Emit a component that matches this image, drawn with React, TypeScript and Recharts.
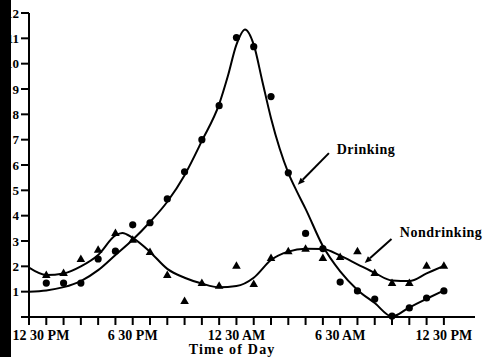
import React from 'react';
import {
  ComposedChart,
  Line,
  Scatter,
  XAxis,
  YAxis,
  ReferenceLine,
  ReferenceDot,
} from 'recharts';

// Observed hours (index of hour since 12:30 PM)
const obsHours = [1, 2, 3, 4, 5, 6, 7, 8, 9, 10, 11, 12, 13, 14, 15, 16, 17, 18, 19, 20, 21, 22, 23, 24];
const drinkingObs = [1.34, 1.34, 1.34, 2.29, 2.6, 3.64, 3.72, 4.66, 5.73, 7.0, 8.34, 11.03, 10.67, 8.7, 5.69, 3.3, 2.7, 1.38, 1.03, 0.71, 0.04, 0.36, 0.75, 1.03];
const nondrinkingObs = [1.66, 1.74, 2.29, 2.65, 3.32, 3.05, 2.57, 1.66, 0.63, 1.34, 1.23, 2.02, 1.3, 2.33, 2.6, 2.69, 2.33, 2.37, 2.6, 1.74, 1.34, 1.34, 2.02, 2.02];

// Fitted curves
const drinkingFitHours = [0, 1, 2, 3, 4, 5, 6, 7, 8, 9, 10, 11, 11.5, 12, 12.5, 13, 13.5, 14, 14.5, 15, 15.5, 16, 17, 18, 19, 20, 21, 22, 23, 24];
const drinkingFit = [1.0, 1.05, 1.18, 1.42, 1.85, 2.45, 3.05, 3.75, 4.55, 5.6, 6.95, 8.4, 9.5, 10.75, 11.35, 10.75, 9.3, 7.85, 6.65, 5.69, 4.95, 4.27, 2.8, 1.8, 1.07, 0.55, 0.02, 0.38, 0.72, 1.05];
const nondrinkingFitHours = [0, 1, 2, 3, 4, 5, 5.4, 6, 7, 8, 9, 10, 11, 12, 13, 14, 15, 16, 17, 18, 19, 20, 21, 22, 23, 24];
const nondrinkingFit = [1.95, 1.66, 1.72, 2.0, 2.45, 3.22, 3.32, 3.12, 2.57, 1.9, 1.55, 1.32, 1.17, 1.22, 1.55, 2.25, 2.58, 2.69, 2.68, 2.42, 2.08, 1.74, 1.44, 1.42, 1.72, 2.02];

const hourTicks = [0, 1, 2, 3, 4, 5, 6, 7, 8, 9, 10, 11, 12, 13, 14, 15, 16, 17, 18, 19, 20, 21, 22, 23, 24];
const labelHours = [0, 6, 12, 18, 24];
const tickLabels = ['12 30 PM', '6 30 PM', '12 30 AM', '6 30 AM', '12 30 PM'];
const yTicks = [0, 1, 2, 3, 4, 5, 6, 7, 8, 9, 10, 11, 12];

const drinkingObsData = obsHours.map((h, i) => ({ x: h, y: drinkingObs[i] }));
const nondrinkingObsData = obsHours.map((h, i) => ({ x: h, y: nondrinkingObs[i] }));
const drinkingFitData = drinkingFitHours.map((h, i) => ({ x: h, y: drinkingFit[i] }));
const nondrinkingFitData = nondrinkingFitHours.map((h, i) => ({ x: h, y: nondrinkingFit[i] }));

const FONT = '"Liberation Serif", "DejaVu Serif", serif';

const XTick = (props: any) => {
  const { x, y, payload } = props;
  const idx = labelHours.indexOf(payload.value);
  if (idx < 0) return null;
  const shift = idx === 0 ? 12 : 0;
  return (
    <text x={x + shift} y={y} dy="0.71em" textAnchor="middle" fill="#000" fontSize={14} fontWeight="bold" fontFamily={FONT}>
      {tickLabels[idx]}
    </text>
  );
};

const Circle = (props: any) => <circle cx={props.cx} cy={props.cy} r={3.6} fill="#000" />;
const Triangle = (props: any) => {
  const { cx, cy } = props;
  return <polygon points={`${cx},${cy - 4.5} ${cx - 4.3},${cy + 3} ${cx + 4.3},${cy + 3}`} fill="#000" />;
};

const Arrow = (props: any) => {
  const { x1, y1, x2, y2 } = props;
  const ang = Math.atan2(y2 - y1, x2 - x1);
  const L = 7;
  const W = 3;
  const bx = x2 - L * Math.cos(ang);
  const by = y2 - L * Math.sin(ang);
  const px = -Math.sin(ang) * W;
  const py = Math.cos(ang) * W;
  return (
    <g>
      <line x1={x1} y1={y1} x2={bx} y2={by} stroke="#000" strokeWidth={2} />
      <polygon points={`${x2},${y2} ${bx + px},${by + py} ${bx - px},${by - py}`} fill="#000" />
    </g>
  );
};

const makeText = (value: string) => (props: any) => (
  <text x={props.cx} y={props.cy} fill="#000" fontSize={14} fontWeight="bold" fontFamily={FONT} letterSpacing={0.5}>
    {value}
  </text>
);

const makeCenterText = (value: string) => (props: any) => (
  <text x={props.cx} y={props.cy} fill="#000" fontSize={14} fontWeight="bold" fontFamily={FONT} letterSpacing={1.2} textAnchor="middle">
    {value}
  </text>
);

export default function App() {
  return (
    <div style={{ position: 'absolute', left: 0, top: 0, width: 486, height: 357, background: '#fff' }}>
      <ComposedChart
        width={486}
        height={357}
        margin={{ top: 13, right: 11, bottom: 0, left: 0 }}
      >
        <XAxis
          type="number"
          dataKey="x"
          domain={[0, 25.8]}
          ticks={hourTicks}
          interval={0}
          tick={<XTick />}
          tickSize={8}
          tickMargin={5}
          height={40}
          axisLine={{ stroke: '#000', strokeWidth: 2 }}
          tickLine={{ stroke: '#000', strokeWidth: 2 }}
          allowDataOverflow
        />
        <YAxis
          type="number"
          domain={[0, 12]}
          ticks={yTicks}
          interval={0}
          width={29}
          tickSize={8}
          tickMargin={2}
          tickFormatter={(v: number) => (v === 0 ? '' : String(v))}
          tick={{ fill: '#000', fontSize: 13, fontWeight: 'bold', fontFamily: FONT }}
          axisLine={{ stroke: '#000', strokeWidth: 2 }}
          tickLine={{ stroke: '#000', strokeWidth: 2 }}
        />
        <Line data={drinkingFitData} dataKey="y" type="monotone" stroke="#000" strokeWidth={2} dot={false} activeDot={false} isAnimationActive={false} />
        <Line data={nondrinkingFitData} dataKey="y" type="monotone" stroke="#000" strokeWidth={2} dot={false} activeDot={false} isAnimationActive={false} />
        <Scatter data={drinkingObsData} dataKey="y" shape={<Circle />} isAnimationActive={false} />
        <Scatter data={nondrinkingObsData} dataKey="y" shape={<Triangle />} isAnimationActive={false} />
        <ReferenceLine segment={[{ x: 17.35, y: 6.47 }, { x: 15.55, y: 5.22 }]} shape={<Arrow />} ifOverflow="visible" />
        <ReferenceLine segment={[{ x: 20.97, y: 3.08 }, { x: 19.42, y: 2.13 }]} shape={<Arrow />} ifOverflow="visible" />
        <ReferenceDot x={17.8} y={6.45} r={0} ifOverflow="visible" shape={makeText('Drinking')} />
        <ReferenceDot x={21.45} y={3.16} r={0} ifOverflow="visible" shape={makeText('Nondrinking')} />
        <ReferenceDot x={11.75} y={-1.45} r={0} ifOverflow="visible" shape={makeCenterText('Time of Day')} />
      </ComposedChart>
      <div style={{ position: 'absolute', left: 0, top: 0, width: 11, height: 357, background: '#000' }} />
    </div>
  );
}
